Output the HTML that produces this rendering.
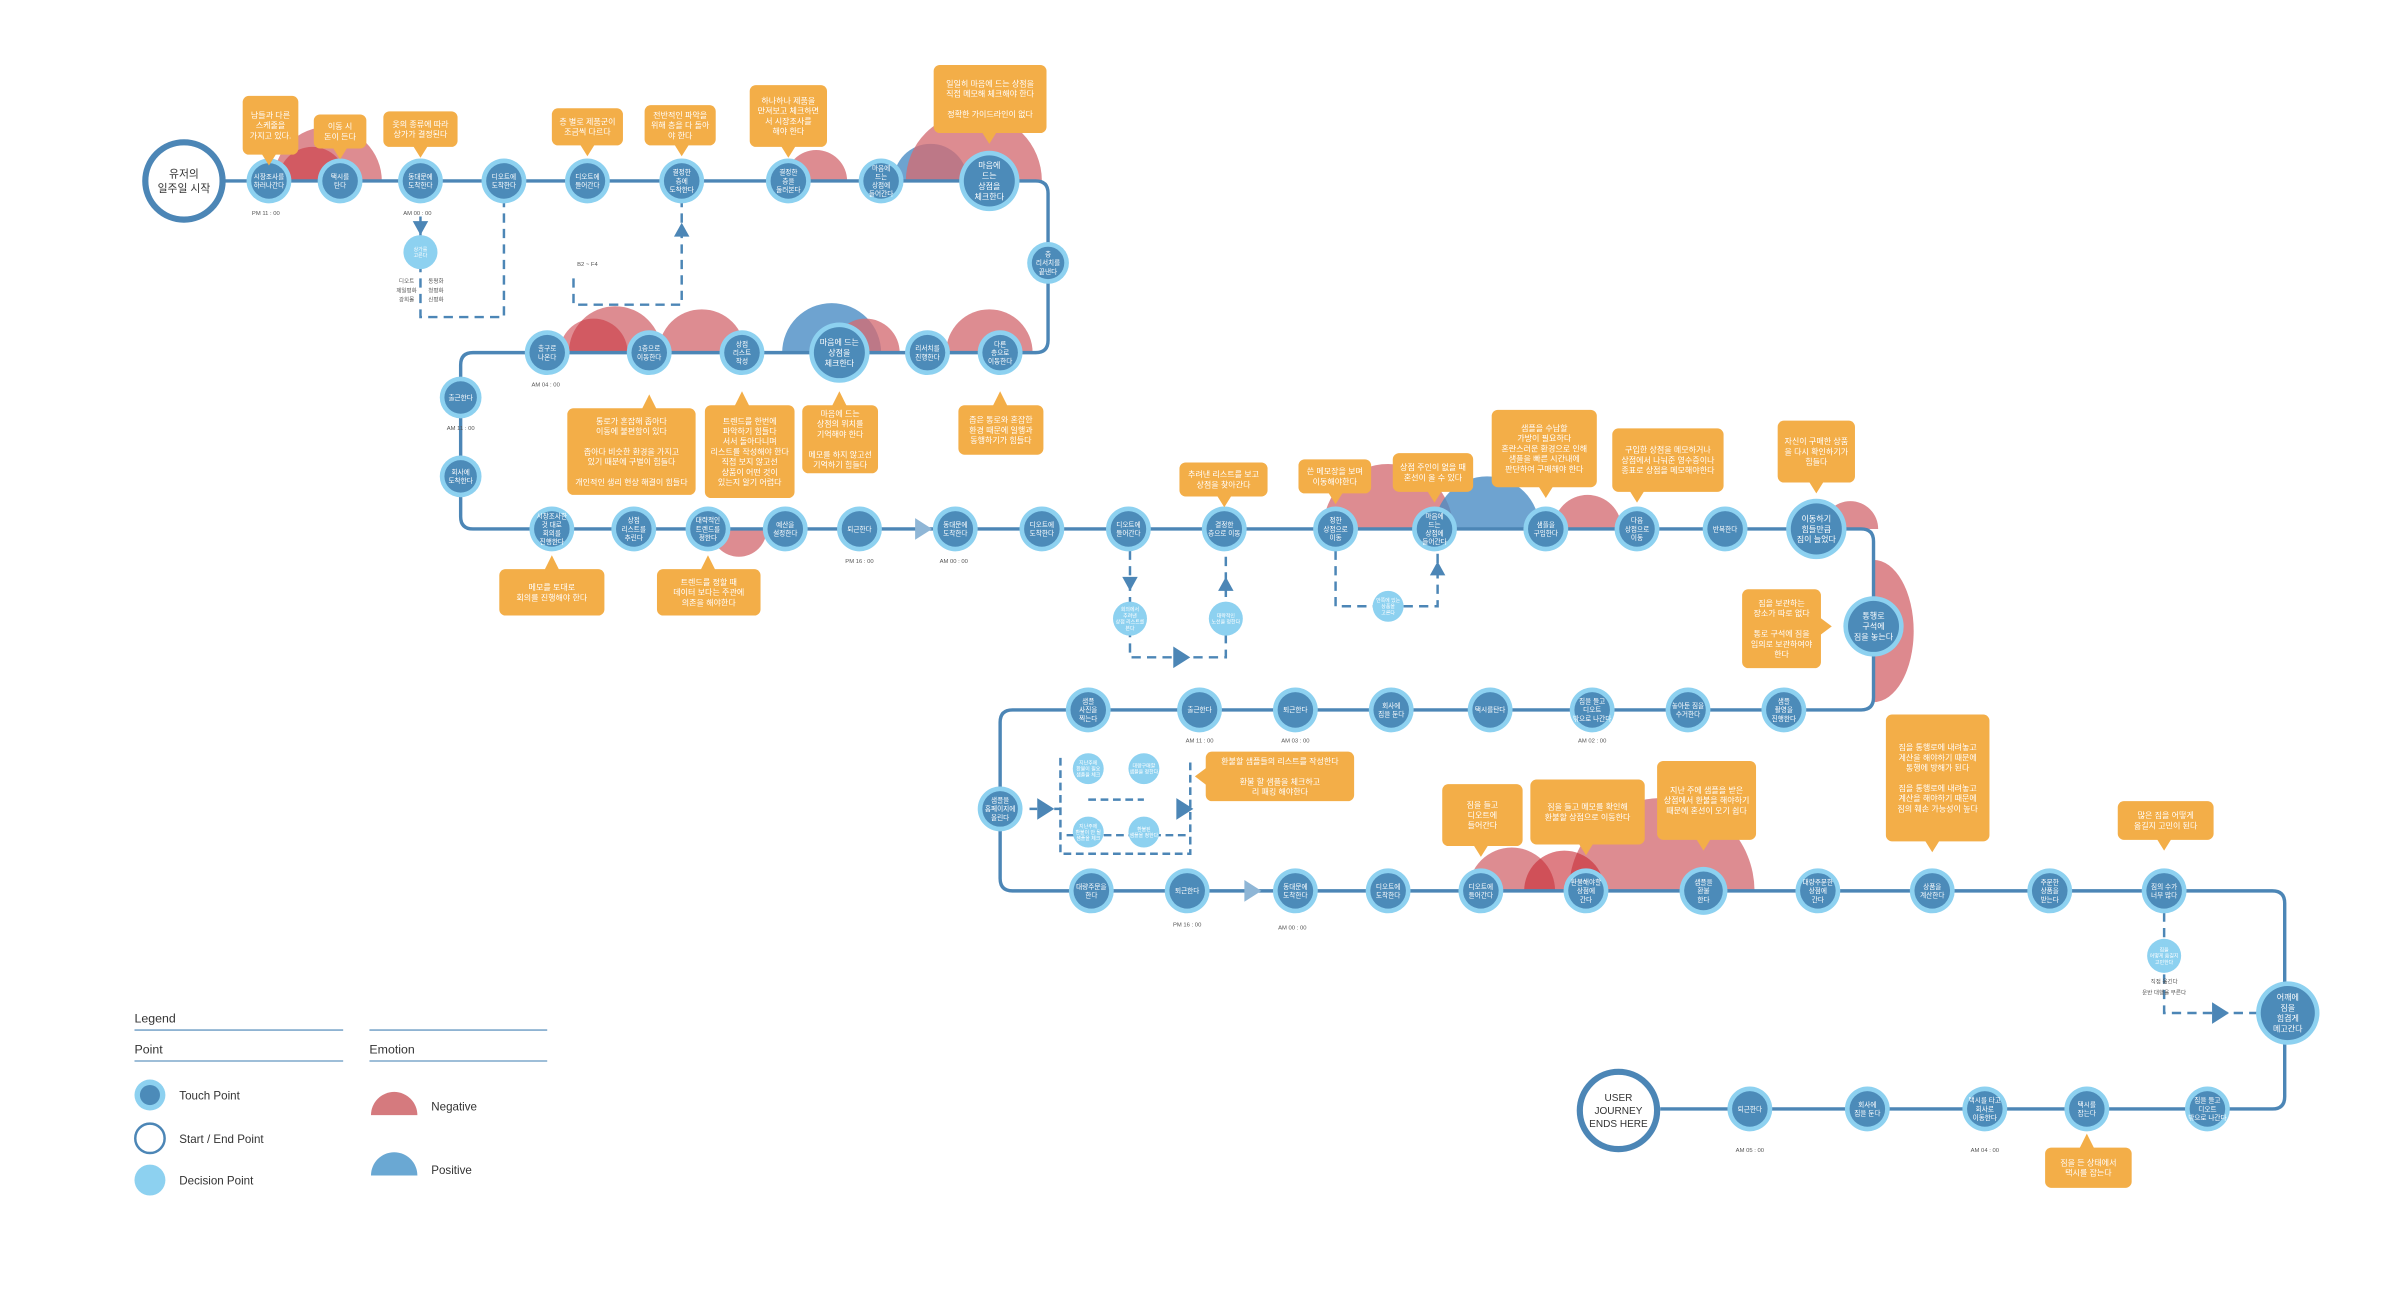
<!DOCTYPE html>
<html><head><meta charset="utf-8">
<style>
html,body{margin:0;padding:0;background:#fff;}
svg{display:block;}
text{font-family:"Liberation Sans","Noto Sans CJK KR",sans-serif;}
</style></head>
<body>
<svg id="map" width="2396" height="1310" viewBox="0 0 1550 847" preserveAspectRatio="none" xmlns="http://www.w3.org/2000/svg">
<g id="emo"></g>
<g id="paths"></g>
<g id="nodesG"></g>
<g id="calls"></g>
<g id="labels"></g>
<g id="legend">
  <text x="87" y="661" font-size="8" fill="#333">Legend</text>
  <line x1="87" y1="666" x2="222" y2="666" stroke="#7fa8cc" stroke-width="1"/>
  <line x1="239" y1="666" x2="354" y2="666" stroke="#7fa8cc" stroke-width="1"/>
  <text x="87" y="681" font-size="8" fill="#333">Point</text>
  <text x="239" y="681" font-size="8" fill="#333">Emotion</text>
  <line x1="87" y1="686" x2="222" y2="686" stroke="#7fa8cc" stroke-width="1"/>
  <line x1="239" y1="686" x2="354" y2="686" stroke="#7fa8cc" stroke-width="1"/>
  <g><circle cx="97" cy="708" r="10" fill="#8dd1f0"/><circle cx="97" cy="708" r="6.5" fill="#4c8bb9"/><text x="116" y="711" font-size="7.5" fill="#333">Touch Point</text></g>
  <g><circle cx="97" cy="736" r="9.5" fill="#fff" stroke="#4c86b6" stroke-width="1.6"/><text x="116" y="739" font-size="7.5" fill="#333">Start / End Point</text></g>
  <g><circle cx="97" cy="763" r="10" fill="#8dd1f0"/><text x="116" y="766" font-size="7.5" fill="#333">Decision Point</text></g>
  <g><path d="M240,721 A15,15 0 0 1 270,721 Z" fill="#d57a7e"/><text x="279" y="718" font-size="7.5" fill="#333">Negative</text></g>
  <g><path d="M240,760 A15,15 0 0 1 270,760 Z" fill="#6aa8d3"/><text x="279" y="759" font-size="7.5" fill="#333">Positive</text></g>
</g>
</svg>
<script>
const NS="http://www.w3.org/2000/svg";
function mk(tag,attrs,parent){const e=document.createElementNS(NS,tag);for(const k in attrs)e.setAttribute(k,attrs[k]);parent.appendChild(e);return e;}
const LINE="#4c86b6";

// emotions: [cx, baselineY, radius, type, dir(1 up,-1 down)]
const emotions=[
 [212,117,35,'neg',1],[202,117,22,'negd',1],[528,117,20,'neg',1],[602,117,24,'pos',1],[630,117,44,'neg',1],
 [398,228,30,'neg',1],[384,228,22,'negd',1],[454,228,28,'neg',1],[538,228,32,'pos',1],[560,228,22,'neg',1],[640,228,28,'neg',1],
 [478,342,18,'neg',-1],[898,342,42,'neg',1],[962,342,34,'pos',1],[1027,342,22,'neg',1],[1197,342,18,'neg',1],
 [978,576,28,'neg',1],[1075,576,60,'neg',1],[1012,576,26,'negd2',1]
];
const eg=document.getElementById('emo');
emotions.forEach(e=>{
  const [cx,y,r,t,d]=e;
  const col=t==='pos'?'rgba(74,140,196,0.8)':t==='neg'?'rgba(212,108,114,0.78)':t==='negd'?'rgba(200,50,60,0.55)':'rgba(200,40,50,0.6)';
  const p=mk('path',{d:`M${cx-r},${y} A${r},${r} 0 0 ${d>0?1:0} ${cx+r},${y} Z`,fill:col},eg);
  
  
});
// right side half ellipse
const re=mk('path',{d:"M1212,362 A26,46 0 0 1 1212,454 Z",fill:"rgba(212,108,114,0.8)"},eg);



const pg=document.getElementById('paths');
const mainPath="M145,117 L670,117 Q678,117 678,125 L678,220 Q678,228 670,228 L306,228 Q298,228 298,236 L298,334 Q298,342 306,342 L1204,342 Q1212,342 1212,350 L1212,451 Q1212,459 1204,459 L655,459 Q647,459 647,467 L647,568 Q647,576 655,576 L1470,576 Q1478,576 1478,584 L1478,709 Q1478,717 1470,717 L1074,717";
const mp=mk('path',{d:mainPath,fill:"none",stroke:LINE,"stroke-width":2.2},pg);


const dashes=["M272,140 L272,205 L326,205 L326,131","M371,180 L371,197 L441,197 L441,131","M731,356 L731,425 L793,425 L793,356","M864,356 L864,392 L930,392 L930,356","M1400,590 L1400,655 L1460,655","M686,490 L686,552 L770,552 L770,490","M666,523 L686,523","M704,517 L740,517","M690,540 L770,540"];
dashes.forEach((d,i)=>{const p=mk('path',{d:d,fill:"none",stroke:LINE,"stroke-width":1.6,"stroke-dasharray":i>=5?"5,3":"6,4"},pg);
 
 });
// arrows
const arrows=[[272,148,'down'],[441,148,'up'],[731,378,'down'],[793,377,'up'],[930,367,'up'],[597,342,'right'],[810,576,'right'],[764,425,'right'],[1436,655,'right'],[676,523,'right'],[766,523,'right']];
arrows.forEach(a=>{const [x,y,d]=a;let pts;
 if(d==='down')pts=`${x-5},${y-5} ${x+5},${y-5} ${x},${y+4}`;
 else if(d==='up')pts=`${x-5},${y+5} ${x+5},${y+5} ${x},${y-4}`;
 else pts=`${x-5},${y-7} ${x+6},${y} ${x-5},${y+7}`;
 const p=mk('polygon',{points:pts,fill:d==='right'&&(x===597||x===810)?"#8fb6d6":LINE},pg);
 
 });

// nodes: [x,y,r,label,type]
const nodes=[
[174,117,14,"시장조사를|하러나간다"],[220,117,14,"택시를|탄다"],[272,117,14,"동대문에|도착한다"],[326,117,14,"디오트에|도착한다"],[380,117,14,"디오트에|들어간다"],[441,117,14,"결정한|층에|도착한다"],[510,117,14,"결정한|층을|둘러본다"],[570,117,14,"마음에|드는|상점에|들어간다"],[640,117,19,"마음에|드는|상점을|체크한다"],
[678,170,13,"층|리서치를|끝낸다"],
[354,228,14,"출구로|나온다"],[420,228,14,"1층으로|이동한다"],[480,228,14,"상점|리스트|작성"],[543,228,19,"마음에 드는|상점을|체크한다"],[600,228,14,"리서치를|진행한다"],[647,228,14,"다른|층으로|이동한다"],
[298,257,13,"출근한다"],[298,308,13,"회사에|도착한다"],
[357,342,14,"시장조사한|것 대로|회의를|진행한다"],[410,342,14,"상점|리스트를|추린다"],[458,342,14,"대략적인|트렌드를|정한다"],[508,342,14,"예산을|설정한다"],[556,342,14,"퇴근한다"],[618,342,14,"동대문에|도착한다"],[674,342,14,"디오트에|도착한다"],[730,342,14,"디오트에|들어간다"],[792,342,14,"결정한|층으로 이동"],[864,342,14,"정한|상점으로|이동"],[928,342,14,"마음에|드는|상점에|들어간다"],[1000,342,14,"샘플을|구입한다"],[1059,342,14,"다음|상점으로|이동"],[1116,342,14,"반복한다"],[1175,342,19,"이동하기|힘들만큼|짐이 늘었다"],
[1212,405,19,"통행로|구석에|짐을 놓는다"],
[704,459,14,"샘플|사진을|찍는다"],[776,459,14,"출근한다"],[838,459,14,"퇴근한다"],[900,459,14,"회사에|짐을 둔다"],[964,459,14,"택시를탄다"],[1030,459,14,"짐을 들고|디오트|밖으로 나간다"],[1092,459,14,"놓아둔 짐을|수거한다"],[1154,459,14,"샘플|촬영을|진행한다"],
[647,523,14,"샘플을|홈페이지에|올린다"],
[706,576,14,"대량주문을|한다"],[768,576,14,"퇴근한다"],[838,576,14,"동대문에|도착한다"],[898,576,14,"디오트에|도착한다"],[958,576,14,"디오트에|들어간다"],[1026,576,14,"환불해야할|상점에|간다"],[1102,576,15,"샘플을|환불|한다"],[1176,576,14,"대량주문한|상점에|간다"],[1250,576,14,"상품을|계산한다"],[1326,576,14,"주문한|상품을|받는다"],[1400,576,14,"짐의 수가|너무 많다"],
[1480,655,20,"어깨에|짐을|힘겹게|메고간다"],
[1428,717,14,"짐을 들고|디오트|밖으로 나간다"],[1350,717,14,"택시를|잡는다"],[1284,717,14,"택시를 타고|회사로|이동한다"],[1208,717,14,"회사에|짐을 둔다"],[1132,717,14,"퇴근한다"]
];
const decisions=[[272,163,11,"상가를|고른다"],[731,400,11,"회의에서|추려낸|상점 리스트를|본다"],[793,400,11,"대략적인|노선을 정한다"],[898,392,10,"안쪽에 있는|상품을|고른다"],[704,497,10,"지난주에|환불이 필요|샘플을 체크"],[740,497,10,"대량구매할|샘플을 정한다"],[704,538,10,"지난주에|환불이 안 될|샘플을 체크"],[740,538,10,"환불된|샘플을 정한다"],[1400,618,11,"짐을|어떻게 옮길지|고민한다"]];
const ng=document.getElementById('nodesG');
function label(x,y,r,txt,g){const lines=txt.split('|');const fs=r>=18?5.2:Math.min(4.3, 4.3);const lh=fs*1.3;
 lines.forEach((l,i)=>{const t=mk('text',{x:x,y:y+(i-(lines.length-1)/2)*lh+fs*0.35,"font-size":fs,fill:"#fff","text-anchor":"middle"},g);t.textContent=l;});}
nodes.forEach(n=>{const [x,y,r,t]=n;const g=mk('g',{},ng);
 
 
 mk('circle',{cx:x,cy:y,r:r+0.5,fill:"#8dd1f0"},g);mk('circle',{cx:x,cy:y,r:r-2.5,fill:"#4c8bb9"},g);label(x,y,r,t,g);});
decisions.forEach(n=>{const [x,y,r,t]=n;const g=mk('g',{},ng);
 
 
 mk('circle',{cx:x,cy:y,r:r,fill:"#8dd1f0"},g);const lines=t.split('|');lines.forEach((l,i)=>{const tt=mk('text',{x:x,y:y+(i-(lines.length-1)/2)*4+1.2,"font-size":3.2,fill:"#fff","text-anchor":"middle"},g);tt.textContent=l;});});
// start / end
[[119,117,"유저의|일주일 시작",7,'start-point'],[1047,718,"USER|JOURNEY|ENDS HERE",6.5,'end-point']].forEach(s=>{const [x,y,t,fs,nm]=s;const g=mk('g',{},ng);
 
 
 mk('circle',{cx:x,cy:y,r:25,fill:"#fff",stroke:LINE,"stroke-width":4},g);const lines=t.split('|');lines.forEach((l,i)=>{const tt=mk('text',{x:x,y:y+(i-(lines.length-1)/2)*fs*1.3+fs*0.35,"font-size":fs,fill:"#333","text-anchor":"middle"},g);tt.textContent=l;});});

// callouts: [x,y,w,h,pointerSide,px,lines]
const callouts=[
[157,62,36,38,'b',174,"남들과 다른|스케줄을|가지고 있다."],
[203,74,34,22,'b',220,"이동 시|돈이 든다"],
[248,72,48,23,'b',272,"옷의 종류에 따라|상가가 결정된다"],
[357,70,46,24,'b',380,"층 별로 제품군이|조금씩 다르다"],
[417,68,46,26,'b',441,"전반적인 파악을|위해 층을 다 돌아|야 한다"],
[485,55,50,40,'b',510,"하나하나 제품을|만져보고 체크하면|서 시장조사를|해야 한다"],
[604,42,73,44,'b',640,"일일히 마음에 드는 상점을|직접 메모해 체크해야 한다||정확한 가이드라인이 없다"],
[367,264,83,56,'t',420,"통로가 혼잡해 좁아다|이동에 불편함이 있다||좁아다 비슷한 환경을 가지고|있기 때문에 구별이 힘들다||개인적인 생리 현상 해결이 힘들다"],
[456,262,58,60,'t',480,"트렌드를 한번에|파악하기 힘들다|서서 돌아다니며|리스트를 작성해야 한다|직접 보지 않고선|상품이 어떤 것이|있는지 알기 어렵다"],
[519,262,49,44,'t',543,"마음에 드는|상점의 위치를|기억해야 한다||메모를 하지 않고선|기억하기 힘들다"],
[620,262,55,32,'t',647,"좁은 통로와 혼잡한|환경 때문에 일행과|동행하기가 힘들다"],
[323,368,68,30,'t',357,"메모를 토대로|회의를 진행해야 한다"],
[425,368,67,30,'t',458,"트렌드를 정할 때|데이터 보다는 주관에|의존을 해야한다"],
[763,299,57,22,'b',792,"추려낸 리스트를 보고|상점을 찾아간다"],
[840,297,47,22,'b',864,"쓴 메모장을 보며|이동해야한다"],
[901,293,52,25,'b',928,"상점 주인이 없을 때|혼선이 올 수 있다"],
[965,265,68,50,'b',1000,"샘플을 수납할|가방이 필요하다|혼란스러운 환경으로 인해|샘플을 빠른 시간내에|판단하여 구매해야 한다"],
[1043,277,72,41,'b',1059,"구입한 상점을 메모하거나|상점에서 나눠준 영수증이나|종표로 상점을 메모해야한다"],
[1150,272,50,40,'b',1175,"자신이 구매한 상품|을 다시 확인하기가|힘들다"],
[1127,381,51,51,'r',405,"짐을 보관하는|장소가 따로 없다||통로 구석에 짐을|임의로 보관하여야|한다"],
[780,486,96,32,'l',502,"환불할 샘플들의 리스트를 작성한다||환불 할 샘플을 체크하고|리 패킹 해야한다"],
[933,507,52,40,'b',958,"짐을 들고|디오트에|들어간다"],
[990,504,74,42,'b',1026,"짐을 들고 메모를 확인해|환불할 상점으로 이동한다"],
[1072,492,64,51,'b',1102,"지난 주에 샘플을 받은|상점에서 환불을 해야하기|때문에 혼선이 오기 쉽다"],
[1220,462,67,82,'b',1250,"짐을 통행로에 내려놓고|계산을 해야하기 때문에|통행에 방해가 된다||짐을 통행로에 내려놓고|계산을 해야하기 때문에|짐의 훼손 가능성이 높다"],
[1370,518,62,25,'b',1400,"많은 짐을 어떻게|옮길지 고민이 된다"],
[1323,742,56,26,'t',1350,"짐을 든 상태에서|택시를 잡는다"]
];
const cg=document.getElementById('calls');
callouts.forEach(c=>{const [x,y,w,h,s,p,t]=c;const g=mk('g',{},cg);
 
 
 const col="#f3ae48";
 mk('rect',{x:x,y:y,width:w,height:h,rx:4,fill:col},g);
 let pts;
 if(s==='b')pts=`${p-5},${y+h-1} ${p+5},${y+h-1} ${p},${y+h+7}`;
 else if(s==='t')pts=`${p-5},${y+1} ${p+5},${y+1} ${p},${y-9}`;
 else if(s==='r')pts=`${x+w-1},${p-6} ${x+w-1},${p+6} ${x+w+7},${p}`;
 else pts=`${x+1},${p-6} ${x+1},${p+6} ${x-7},${p}`;
 mk('polygon',{points:pts,fill:col},g);
 const lines=t.split('|');const fs=5.2;const lh=6.6;
 lines.forEach((l,i)=>{const tt=mk('text',{x:x+w/2,y:y+h/2+(i-(lines.length-1)/2)*lh+fs*0.35,"font-size":fs,fill:"#fff","text-anchor":"middle"},g);tt.textContent=l;});});

// time labels
const times=[[172,139,"PM 11 : 00"],[270,139,"AM 00 : 00"],[353,250,"AM 04 : 00"],[298,278,"AM 11 : 00"],[556,364,"PM 16 : 00"],[617,364,"AM 00 : 00"],[776,480,"AM 11 : 00"],[838,480,"AM 03 : 00"],[1030,480,"AM 02 : 00"],[768,599,"PM 16 : 00"],[836,601,"AM 00 : 00"],[1132,745,"AM 05 : 00"],[1284,745,"AM 04 : 00"],[380,172,"B2 ~ F4"]];
const lg=document.getElementById('labels');
times.forEach(tm=>{const t=mk('text',{x:tm[0],y:tm[1],"font-size":3.8,fill:"#555","text-anchor":"middle"},lg);
 
 
 t.textContent=tm[2];});
const small=[[263,183,"디오트"],[263,189,"제일평화"],[263,195,"광희몰"],[282,183,"동평화"],[282,189,"청평화"],[282,195,"신평화"],[1400,636,"직접 옮긴다"],[1400,643,"운반 대행을 부른다"]];
small.forEach(s=>{const t=mk('text',{x:s[0],y:s[1],"font-size":3.6,fill:"#555","text-anchor":"middle"},lg);
 
 
 t.textContent=s[2];});
</script>
</body></html>
